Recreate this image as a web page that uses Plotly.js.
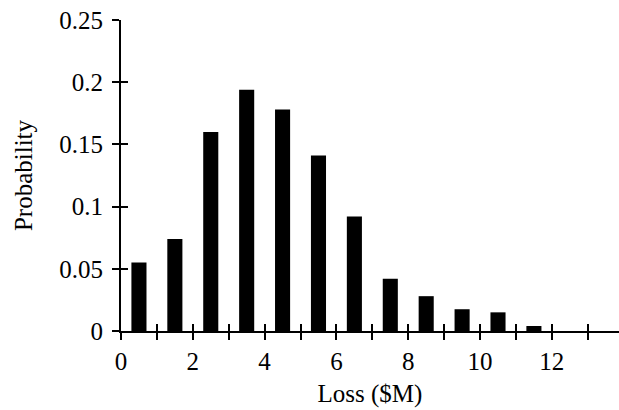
<!DOCTYPE html>
<html>
<head>
<meta charset="utf-8">
<script src="https://cdn.plot.ly/plotly-3.0.1.min.js"></script>
<style>html,body{margin:0;padding:0;background:#fff;}#chart{width:619px;height:410px;}</style>
</head>
<body>
<div id="chart"></div>
<script>
const lossMid = [0.5, 1.5, 2.5, 3.5, 4.5, 5.5, 6.5, 7.5, 8.5, 9.5, 10.5, 11.5];
const probability = [0.055, 0.074, 0.160, 0.194, 0.178, 0.141, 0.092, 0.042, 0.028, 0.0175, 0.015, 0.004];
const xTickVals = [0, 2, 4, 6, 8, 10, 12];
const xMinorTicks = [0,1,2,3,4,5,6,7,8,9,10,11,12,13];
const yTickVals = [0, 0.05, 0.1, 0.15, 0.2, 0.25];
const yTickText = ["0", "0.05", "0.1", "0.15", "0.2", "0.25"];

const font = {family: "Liberation Serif, Times New Roman, serif", size: 25, color: "#000"};

const data = [{
  type: "bar",
  x: lossMid,
  y: probability,
  width: 0.42,
  marker: {color: "#000", line: {width: 0}},
  hoverinfo: "none"
}];

const layout = {
  width: 619, height: 410,
  margin: {l: 121, r: 0, t: 20, b: 79},
  paper_bgcolor: "#fff", plot_bgcolor: "#fff",
  font: font,
  showlegend: false,
  xaxis: {
    range: [0, 13.87],
    tickmode: "array", tickvals: xMinorTicks,
    ticktext: xMinorTicks.map(v => xTickVals.includes(v) ? String(v) : ""),
    ticks: "outside", ticklen: 7, tickwidth: 2, tickcolor: "#000",
    showline: true, linecolor: "#000", linewidth: 2,
    showgrid: false, zeroline: false,
    tickfont: font,
    title: {text: "Loss ($M)", font: font, standoff: 10}
  },
  yaxis: {
    range: [0, 0.25],
    tickmode: "array", tickvals: yTickVals, ticktext: yTickText,
    ticks: "outside", ticklen: 7, tickwidth: 2, tickcolor: "#000",
    showline: true, linecolor: "#000", linewidth: 2,
    showgrid: false, zeroline: false,
    tickfont: font,
    ticklabelstandoff: 4,
    title: {text: "Probability", font: font, standoff: 20}
  },
  xaxis2: {
    overlaying: "x", anchor: "y", side: "bottom",
    range: [0, 13.87], tickmode: "array", tickvals: xMinorTicks,
    ticks: "inside", ticklen: 7, tickwidth: 2, tickcolor: "#000",
    showticklabels: false, showline: false, showgrid: false, zeroline: false
  },
  yaxis2: {
    overlaying: "y", anchor: "x", side: "left",
    range: [-0.0002, 0.2502], tickmode: "array", tickvals: yTickVals,
    ticks: "inside", ticklen: 7, tickwidth: 2, tickcolor: "#000",
    showticklabels: false, showline: false, showgrid: false, zeroline: false
  },
  shapes: [{
    type: "line", xref: "paper", yref: "y",
    x0: -0.016, x1: 0, y0: 0, y1: 0,
    line: {color: "#000", width: 2}
  }]
};

data.push({type: "scatter", x: [0], y: [0], xaxis: "x2", yaxis: "y2", mode: "markers", marker: {opacity: 0}, hoverinfo: "none"});

Plotly.newPlot("chart", data, layout, {staticPlot: true, displayModeBar: false});
</script>
</body>
</html>
